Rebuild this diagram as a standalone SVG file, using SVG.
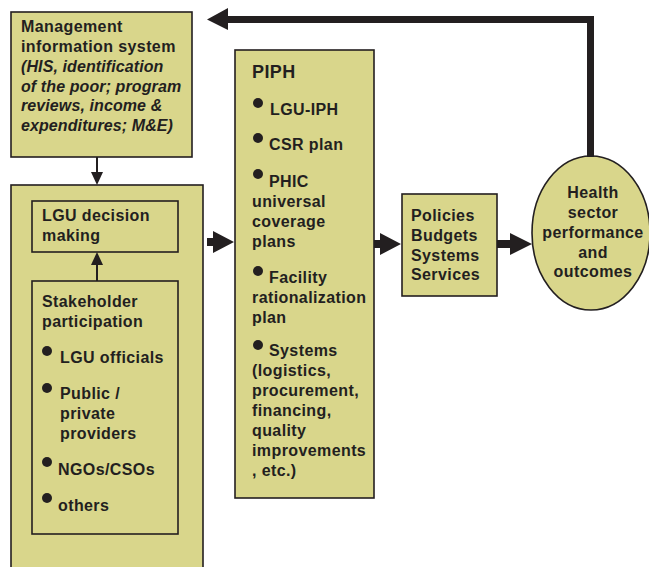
<svg xmlns="http://www.w3.org/2000/svg" width="649" height="567" viewBox="0 0 649 567">
<style>
.box{fill:#d9d68b;stroke:#231f20;stroke-width:1.6}
.in{fill:none;stroke:#231f20;stroke-width:1.6}
text{font-family:"Liberation Sans",Arial,sans-serif;font-weight:bold;fill:#231f20}
.t{font-size:16px;letter-spacing:0.4px}
.m{font-size:16px;letter-spacing:0.4px}
.i{font-size:16px;font-style:italic;letter-spacing:0.1px}
.dot{fill:#231f20}
.ar{fill:#231f20}
.ln{stroke:#231f20;stroke-width:2;fill:none}
</style>
<rect x="0" y="0" width="649" height="567" fill="#ffffff"/>
<g id="mis">
<rect class="box" x="11" y="12" width="181" height="145"/>
<text class="m" x="21" y="32">Management</text>
<text class="m" x="21" y="52">information system</text>
<text class="i" x="21" y="72">(HIS, identification</text>
<text class="i" x="21" y="92">of the poor; program</text>
<text class="i" x="21" y="111">reviews, income &amp;</text>
<text class="i" x="21" y="131">expenditures; M&amp;E)</text>
</g>
<g id="lgu-group">
<rect class="box" x="11" y="185" width="192" height="400"/>
</g>
<g id="lgu-decision">
<rect class="in" x="32" y="201" width="146" height="51"/>
<text class="t" x="42" y="221">LGU decision</text>
<text class="t" x="42" y="241">making</text>
</g>
<g id="stakeholder">
<rect class="in" x="32" y="281" width="146" height="253"/>
<text class="t" x="42" y="307">Stakeholder</text>
<text class="t" x="42" y="327">participation</text>
<circle class="dot" cx="47" cy="351" r="5"/>
<text class="t" x="60" y="363">LGU officials</text>
<circle class="dot" cx="47" cy="388" r="5"/>
<text class="t" x="60" y="399">Public /</text>
<text class="t" x="60" y="419">private</text>
<text class="t" x="60" y="439">providers</text>
<circle class="dot" cx="47" cy="462" r="5"/>
<text class="t" x="58" y="475">NGOs/CSOs</text>
<circle class="dot" cx="47" cy="498" r="5"/>
<text class="t" x="58" y="511">others</text>
</g>
<g id="piph">
<rect class="box" x="235" y="50" width="139" height="448"/>
<text x="252" y="78" style="font-size:18px;letter-spacing:0.4px">PIPH</text>
<circle class="dot" cx="258" cy="103" r="5"/>
<text class="t" x="270" y="115">LGU-IPH</text>
<circle class="dot" cx="258" cy="138" r="5"/>
<text class="t" x="269" y="150">CSR plan</text>
<circle class="dot" cx="258" cy="174" r="5"/>
<text class="t" x="269" y="187">PHIC</text>
<text class="t" x="252" y="207">universal</text>
<text class="t" x="252" y="227">coverage</text>
<text class="t" x="252" y="247">plans</text>
<circle class="dot" cx="258" cy="271" r="5"/>
<text class="t" x="269" y="283">Facility</text>
<text class="t" x="252" y="303">rationalization</text>
<text class="t" x="252" y="323">plan</text>
<circle class="dot" cx="258" cy="345" r="5"/>
<text class="t" x="269" y="356">Systems</text>
<text class="t" x="252" y="376">(logistics,</text>
<text class="t" x="252" y="396">procurement,</text>
<text class="t" x="252" y="416">financing,</text>
<text class="t" x="252" y="436">quality</text>
<text class="t" x="252" y="456">improvements</text>
<text class="t" x="252" y="476">, etc.)</text>
</g>
<g id="policies">
<rect class="box" x="402" y="194" width="95" height="102"/>
<text class="t" x="411" y="221">Policies</text>
<text class="t" x="411" y="241">Budgets</text>
<text class="t" x="411" y="261">Systems</text>
<text class="t" x="411" y="280">Services</text>
</g>
<g id="health">
<ellipse class="box" cx="591" cy="233" rx="59" ry="77"/>
<text class="t" x="593" y="198" text-anchor="middle">Health</text>
<text class="t" x="593" y="218" text-anchor="middle">sector</text>
<text class="t" x="593" y="238" text-anchor="middle">performance</text>
<text class="t" x="593" y="258" text-anchor="middle">and</text>
<text class="t" x="593" y="277" text-anchor="middle">outcomes</text>
</g>
<g id="connectors">
<line class="ln" x1="97" y1="157" x2="97" y2="173"/>
<polygon class="ar" points="91,172 103,172 97,185"/>
<line class="ln" x1="97" y1="281" x2="97" y2="264"/>
<polygon class="ar" points="91,265 103,265 97,252"/>
<polygon class="ar" points="207,238 213,238 213,231 234,242 213,253 213,246 207,246"/>
<polygon class="ar" points="374,240 380,240 380,233 401,244 380,255 380,248 374,248"/>
<polygon class="ar" points="497,240 510,240 510,233 532,244 510,255 510,248 497,248"/>
<polygon class="ar" points="594,157 587,157 587,23 228,23 228,30 207,19.5 228,8 228,16 594,16"/>
</g>
</svg>
